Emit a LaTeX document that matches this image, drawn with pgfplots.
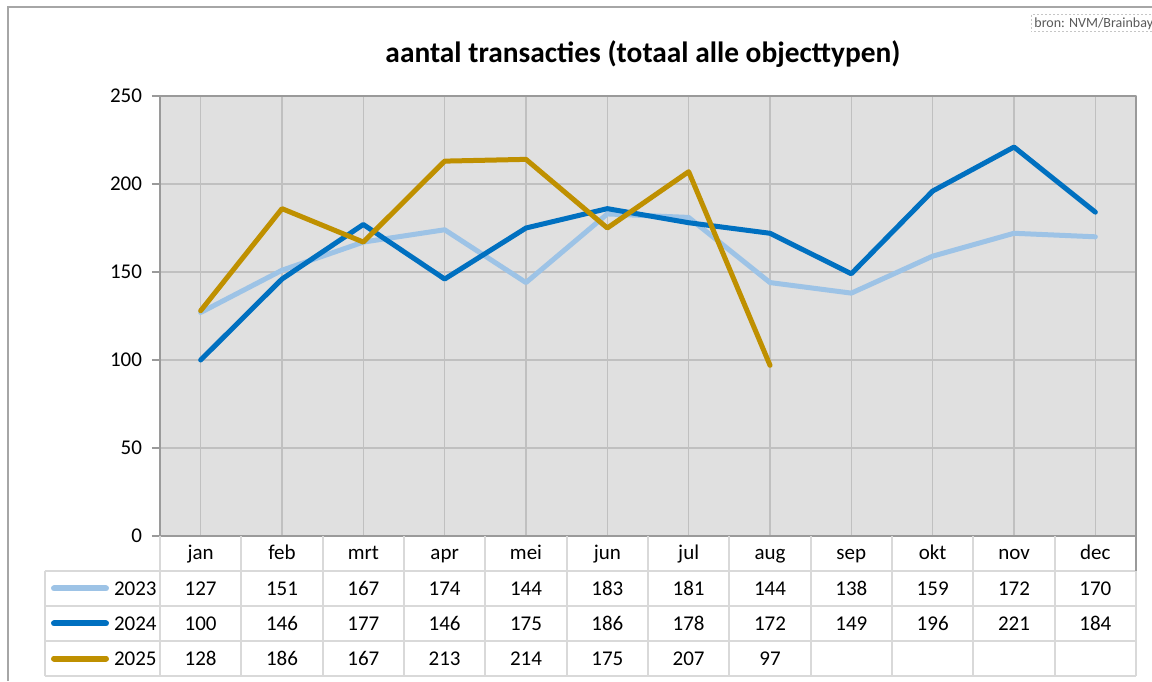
\documentclass[border=0pt]{standalone}
\usepackage{fontspec}
\setmainfont{Carlito}
\usepackage{pgfplots}
\pgfplotsset{compat=1.18}
\usepackage{pgfplotstable}

\definecolor{c23}{HTML}{9DC3E6}
\definecolor{c24}{HTML}{0070C0}
\definecolor{c25}{HTML}{BF9000}
\definecolor{plotbg}{HTML}{E0E0E0}
\definecolor{gridc}{HTML}{C0C0C0}
\definecolor{tablec}{HTML}{D9D9D9}
\definecolor{framec}{HTML}{A6A6A6}
\definecolor{axc}{HTML}{9A9A9A}

\pgfplotstableread{
x a b
0 127 100
1 151 146
2 167 177
3 174 146
4 144 175
5 183 186
6 181 178
7 144 172
8 138 149
9 159 196
10 172 221
11 170 184
}\dataA

\pgfplotstableread{
x c
0 128
1 186
2 167
3 213
4 214
5 175
6 207
7 97
}\dataB

\newcommand{\tfont}{\fontsize{10.5}{12}\selectfont}

\begin{document}
\begin{tikzpicture}
\path[use as bounding box] (0,0) rectangle (576pt,340.5pt);
% outer frame
\draw[framec, line width=1pt] (4pt,0) -- (4pt,337pt) -- (577pt,337pt);
% source label
\draw[gray!45, line width=0.5pt, dash pattern=on 1pt off 1pt] (515.5pt,333pt) rectangle (580pt,324.5pt);
\node[anchor=west, inner sep=0pt, text=black!65, font=\fontsize{7}{9}\selectfont] at (517pt,328.7pt) {bron: NVM/Brainbay};
% title
\node[anchor=base, inner sep=0pt, font=\fontsize{14.7}{17}\selectfont\bfseries] at (321.5pt,309pt) {aantal transacties (totaal alle objecttypen)};

\begin{axis}[
  at={(80pt,72.5pt)}, anchor=south west,
  scale only axis, width=488pt, height=220pt,
  xmin=-0.5, xmax=11.5, ymin=0, ymax=250,
  ytick={0,50,100,150,200,250},
  xtick={0,1,...,11}, xticklabels={},
  xmajorgrids, ymajorgrids,
  grid style={gridc, line width=0.8pt},
  axis background/.style={fill=plotbg},
  axis line style={axc, line width=1pt},
  tick align=outside, ytick pos=left,
  major tick length=4pt,
  ytick style={axc, line width=0.8pt},
  xtick style={draw=none},
  tick label style={font=\tfont},
  yticklabel style={xshift=-1.5pt},
  /pgf/number format/assume math mode=true,
  line join=round,
]
\addplot[c23, line width=2.5pt, line cap=round] table[x=x, y=a] {\dataA};
\addplot[c24, line width=2.5pt, line cap=round] table[x=x, y=b] {\dataA};
\addplot[c25, line width=2.5pt, line cap=round] table[x=x, y=c] {\dataB};
\end{axis}

\begin{axis}[
  at={(80pt,2.5pt)}, anchor=south west,
  scale only axis, width=488pt, height=70pt,
  xmin=-0.5, xmax=11.5, ymin=0, ymax=4,
  hide axis, clip=false,
  every node near coord/.append style={anchor=center, font=\tfont, /pgf/number format/assume math mode=true, inner sep=0pt},
]
% table grid
\foreach \i in {-0.5,0.5,...,11.5} {
  \edef\tmp{\noexpand\draw[tablec, line width=1pt] (axis cs:\i,0) -- (axis cs:\i,4);}\tmp
}
\foreach \j in {0,1,2,3} {
  \edef\tmp{\noexpand\draw[tablec, line width=1pt] ([xshift=-57.5pt]axis cs:-0.5,\j) -- (axis cs:11.5,\j);}\tmp
}
\draw[tablec, line width=1pt] ([xshift=-57.5pt]axis cs:-0.5,0) -- ([xshift=-57.5pt]axis cs:-0.5,3);
\draw[axc, line width=1pt] (axis cs:11.5,3) -- (axis cs:11.5,4);
% month names
\foreach \m [count=\k from 0] in {jan,feb,mrt,apr,mei,jun,jul,aug,sep,okt,nov,dec} {
  \edef\tmp{\noexpand\node[font=\noexpand\tfont, inner sep=0pt, anchor=base] at ([yshift=-3pt]axis cs:\k,3.5) {\m};}\tmp
}
% legend column
\draw[c23, line width=3pt, line cap=round] ([xshift=-53pt]axis cs:-0.5,2.5) -- ([xshift=-27pt]axis cs:-0.5,2.5);
\draw[c24, line width=3pt, line cap=round] ([xshift=-53pt]axis cs:-0.5,1.5) -- ([xshift=-27pt]axis cs:-0.5,1.5);
\draw[c25, line width=3pt, line cap=round] ([xshift=-53pt]axis cs:-0.5,0.5) -- ([xshift=-27pt]axis cs:-0.5,0.5);
\node[anchor=east, font=\tfont, inner sep=0pt] at ([xshift=-1.5pt]axis cs:-0.5,2.5) {2023};
\node[anchor=east, font=\tfont, inner sep=0pt] at ([xshift=-1.5pt]axis cs:-0.5,1.5) {2024};
\node[anchor=east, font=\tfont, inner sep=0pt] at ([xshift=-1.5pt]axis cs:-0.5,0.5) {2025};
% values
\addplot[draw=none, mark=none, nodes near coords, point meta=explicit] table[x=x, y expr=2.5, meta=a] {\dataA};
\addplot[draw=none, mark=none, nodes near coords, point meta=explicit] table[x=x, y expr=1.5, meta=b] {\dataA};
\addplot[draw=none, mark=none, nodes near coords, point meta=explicit] table[x=x, y expr=0.5, meta=c] {\dataB};
\end{axis}
\end{tikzpicture}
\end{document}
